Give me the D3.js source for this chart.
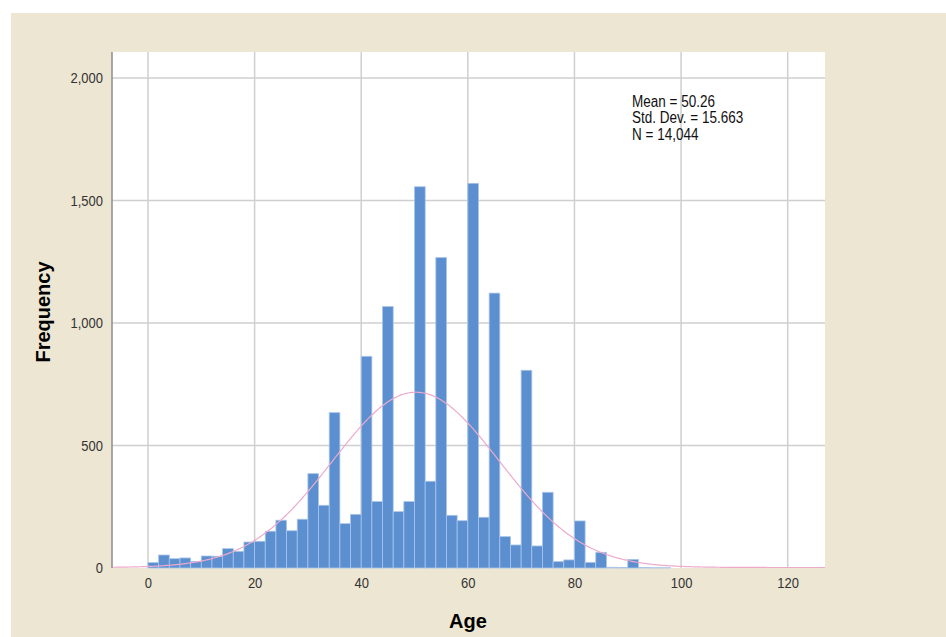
<!DOCTYPE html>
<html>
<head>
<meta charset="utf-8">
<script src="https://cdn.jsdelivr.net/npm/d3@7"></script>
<style>
  body { margin: 0; background: #fff; }
  svg { display: block; }
  text { font-family: "Liberation Sans", Arial, sans-serif; }
</style>
</head>
<body>
<svg id="chart" width="946" height="637"></svg>
<script>
// bin lower edges (bin width 2 years)
let ageBins = [0, 2, 4, 6, 8, 10, 12, 14, 16, 18, 20, 22, 24, 26, 28, 30, 32, 34, 36, 38,
               40, 42, 44, 46, 48, 50, 52, 54, 56, 58, 60, 62, 64, 66, 68, 70, 72, 74, 76, 78,
               80, 82, 84, 86, 88, 90, 92, 94, 96]
let freq = [22, 53, 38, 41, 27, 49, 48, 79, 68, 106, 109, 150, 195, 152, 199, 385, 256, 634, 181, 219,
            864, 271, 1067, 230, 271, 1556, 354, 1267, 215, 193, 1570, 207, 1122, 128, 94, 807, 90, 309, 26, 33,
            192, 23, 64, 3, 2, 35, 2, 1, 1]
let binWidth = 2

let xTicks = [0, 20, 40, 60, 80, 100, 120]
let yTicks = [0, 500, 1000, 1500, 2000]

let mean = 50.26
let sd = 15.663
let n = 14044
let statLines = ['Mean = 50.26', 'Std. Dev. = 15.663', 'N = 14,044']

let svg = d3.select('#chart')

// beige panel
svg.append('rect')
   .attr('x', 11).attr('y', 13)
   .attr('width', 935).attr('height', 624)
   .attr('fill', '#ece6d2')

let plotL = 112, plotR = 825, plotT = 52, plotB = 568

let x = d3.scaleLinear().domain([-6.75, 127]).range([plotL, plotR])
let y = d3.scaleLinear().domain([0, 2106]).range([plotB, plotT])

// plot area
svg.append('rect')
   .attr('x', plotL).attr('y', plotT)
   .attr('width', plotR - plotL).attr('height', plotB - plotT)
   .attr('fill', '#fff')

// grid
svg.append('g')
   .selectAll('line')
   .data(xTicks)
   .enter()
   .append('line')
   .attr('x1', d => x(d)).attr('x2', d => x(d))
   .attr('y1', plotT).attr('y2', plotB)
   .attr('stroke', '#cfcfcf')
   .attr('stroke-width', 1.5)

svg.append('g')
   .selectAll('line')
   .data(yTicks.filter(d => d > 0))
   .enter()
   .append('line')
   .attr('x1', plotL).attr('x2', plotR)
   .attr('y1', d => y(d)).attr('y2', d => y(d))
   .attr('stroke', '#cfcfcf')
   .attr('stroke-width', 1.5)

// bars
svg.append('g')
   .selectAll('rect')
   .data(ageBins)
   .enter()
   .append('rect')
   .attr('x', (d) => x(d))
   .attr('width', (d) => x(d + binWidth) - x(d))
   .attr('y', (d, i) => y(freq[i]))
   .attr('height', (d, i) => y(0) - y(freq[i]))
   .attr('fill', '#5b8fd0')
   .attr('stroke', '#a9c5ea')
   .attr('stroke-width', 0.8)

// normal curve
let curveX = d3.range(-6.75, 127.01, 0.25)
let pdf = (v) => n * binWidth / (sd * Math.sqrt(2 * Math.PI)) * Math.exp(-0.5 * Math.pow((v - mean) / sd, 2))
svg.append('path')
   .datum(curveX)
   .attr('d', d3.line().x(d => x(d)).y(d => y(pdf(d)) - 0.5))
   .attr('fill', 'none')
   .attr('stroke', '#eeaacb')
   .attr('stroke-width', 1.2)

// left axis line
svg.append('line')
   .attr('x1', plotL).attr('x2', plotL)
   .attr('y1', plotT).attr('y2', plotB)
   .attr('stroke', '#8c8c8c')
   .attr('stroke-width', 1.5)

// axes (labels only)
let yAxis = svg.append('g')
   .attr('transform', 'translate(' + plotL + ',0)')
   .call(d3.axisLeft(y).tickValues(yTicks).tickFormat(d3.format(',')).tickSize(0).tickPadding(9))
yAxis.select('.domain').remove()
yAxis.selectAll('text')
   .attr('font-size', 13).attr('fill', '#333')
   .attr('transform', 'scale(1,1.15)')
   .style('font-family', '"Liberation Sans", Arial, sans-serif')

let xAxis = svg.append('g')
   .attr('transform', 'translate(0,' + plotB + ')')
   .call(d3.axisBottom(x).tickValues(xTicks).tickSize(0).tickPadding(8))
xAxis.select('.domain').remove()
xAxis.selectAll('text')
   .attr('font-size', 13).attr('fill', '#333')
   .attr('transform', 'scale(1,1.15)')
   .style('font-family', '"Liberation Sans", Arial, sans-serif')

// axis titles
svg.append('text')
   .attr('x', 468)
   .attr('y', 628)
   .attr('text-anchor', 'middle')
   .attr('font-size', 20)
   .attr('font-weight', 'bold')
   .text('Age')

svg.append('text')
   .attr('transform', 'translate(50,312) rotate(-90)')
   .attr('text-anchor', 'middle')
   .attr('font-size', 20)
   .attr('font-weight', 'bold')
   .text('Frequency')

// stats box
svg.append('g')
   .attr('transform', 'translate(632,107) scale(1,1.2)')
   .selectAll('text')
   .data(statLines)
   .enter()
   .append('text')
   .attr('x', 0)
   .attr('y', (d, i) => i * 13.7)
   .attr('font-size', 13.5)
   .attr('fill', '#111')
   .text(d => d)
</script>
</body>
</html>
